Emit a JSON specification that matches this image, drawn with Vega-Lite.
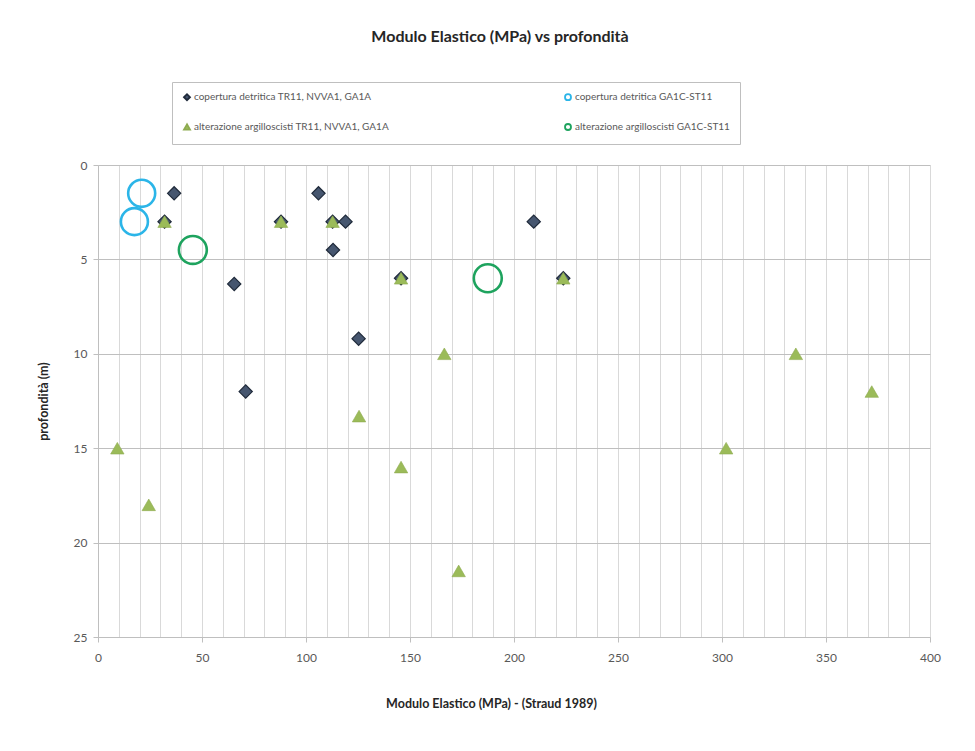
{
  "$schema": "https://vega.github.io/schema/vega-lite/v6.json",
  "width": 832,
  "height": 472,
  "autosize": {"type": "none"},
  "padding": {"left": 98, "top": 165, "right": 45, "bottom": 114},
  "background": "white",
  "config": {
    "font": "Lato",
    "view": {"stroke": null},
    "axis": {"labelFont": "Lato", "titleFont": "Lato", "labelColor": "#595959", "titleColor": "#262626"}
  },
  "title": {
    "text": "Modulo Elastico (MPa) vs profondità",
    "font": "Lato",
    "fontSize": 16,
    "fontWeight": "bold",
    "color": "#262626",
    "anchor": "middle",
    "frame": "group",
    "dx": -14,
    "dy": -17,
    "offset": 20
  },
  "data": {
    "values": [
      {"serie": "copertura detritica TR11, NVVA1, GA1A", "E": 36.6, "z": 1.5},
      {"serie": "copertura detritica TR11, NVVA1, GA1A", "E": 106, "z": 1.5},
      {"serie": "copertura detritica TR11, NVVA1, GA1A", "E": 119, "z": 3},
      {"serie": "copertura detritica TR11, NVVA1, GA1A", "E": 113, "z": 4.5},
      {"serie": "copertura detritica TR11, NVVA1, GA1A", "E": 65.5, "z": 6.3},
      {"serie": "copertura detritica TR11, NVVA1, GA1A", "E": 125.3, "z": 9.2},
      {"serie": "copertura detritica TR11, NVVA1, GA1A", "E": 71, "z": 12},
      {"serie": "copertura detritica TR11, NVVA1, GA1A", "E": 209.5, "z": 3},
      {"serie": "copertura detritica TR11, NVVA1, GA1A", "E": 32, "z": 3},
      {"serie": "copertura detritica TR11, NVVA1, GA1A", "E": 88, "z": 3},
      {"serie": "copertura detritica TR11, NVVA1, GA1A", "E": 112.8, "z": 3},
      {"serie": "copertura detritica TR11, NVVA1, GA1A", "E": 145.7, "z": 6},
      {"serie": "copertura detritica TR11, NVVA1, GA1A", "E": 223.7, "z": 6},
      {"serie": "alterazione argilloscisti TR11, NVVA1, GA1A", "E": 32, "z": 3},
      {"serie": "alterazione argilloscisti TR11, NVVA1, GA1A", "E": 88, "z": 3},
      {"serie": "alterazione argilloscisti TR11, NVVA1, GA1A", "E": 112.8, "z": 3},
      {"serie": "alterazione argilloscisti TR11, NVVA1, GA1A", "E": 145.7, "z": 6},
      {"serie": "alterazione argilloscisti TR11, NVVA1, GA1A", "E": 223.7, "z": 6},
      {"serie": "alterazione argilloscisti TR11, NVVA1, GA1A", "E": 166.5, "z": 10},
      {"serie": "alterazione argilloscisti TR11, NVVA1, GA1A", "E": 125.5, "z": 13.3},
      {"serie": "alterazione argilloscisti TR11, NVVA1, GA1A", "E": 9.3, "z": 15},
      {"serie": "alterazione argilloscisti TR11, NVVA1, GA1A", "E": 145.7, "z": 16},
      {"serie": "alterazione argilloscisti TR11, NVVA1, GA1A", "E": 24.4, "z": 18},
      {"serie": "alterazione argilloscisti TR11, NVVA1, GA1A", "E": 173.4, "z": 21.5},
      {"serie": "alterazione argilloscisti TR11, NVVA1, GA1A", "E": 335.5, "z": 10},
      {"serie": "alterazione argilloscisti TR11, NVVA1, GA1A", "E": 372, "z": 12},
      {"serie": "alterazione argilloscisti TR11, NVVA1, GA1A", "E": 302, "z": 15},
      {"serie": "copertura detritica GA1C-ST11", "E": 21, "z": 1.5},
      {"serie": "copertura detritica GA1C-ST11", "E": 17.5, "z": 3},
      {"serie": "alterazione argilloscisti GA1C-ST11", "E": 45.6, "z": 4.5},
      {"serie": "alterazione argilloscisti GA1C-ST11", "E": 187.4, "z": 6}
    ]
  },
  "mark": {"type": "point", "opacity": 1},
  "encoding": {
    "x": {
      "field": "E",
      "type": "quantitative",
      "scale": {"domain": [0, 400], "nice": false, "zero": false},
      "axis": {
        "title": "Modulo Elastico (MPa) - (Straud 1989)",
        "titleFontSize": 12.5,
        "titleFontWeight": "bold",
        "titleX": 393,
        "titleY": 70,
        "titleBaseline": "alphabetic",
        "values": [0, 10, 20, 30, 40, 50, 60, 70, 80, 90, 100, 110, 120, 130, 140, 150, 160, 170, 180, 190, 200, 210, 220, 230, 240, 250, 260, 270, 280, 290, 300, 310, 320, 330, 340, 350, 360, 370, 380, 390, 400],
        "labelExpr": "datum.value % 50 === 0 ? datum.label : ''",
        "labelFontSize": 12,
        "labelPadding": 10,
        "labelFlush": false,
        "labelOverlap": false,
        "grid": true,
        "gridColor": "#d9d9d9",
        "gridWidth": 1,
        "domainColor": "#bfbfbf",
        "tickColor": "#bfbfbf",
        "tickSize": 5,
        "tickOpacity": {"condition": {"test": "datum.value % 50 !== 0", "value": 0}, "value": 1}
      }
    },
    "y": {
      "field": "z",
      "type": "quantitative",
      "scale": {"domain": [0, 25], "nice": false, "zero": false, "reverse": true},
      "axis": {
        "title": "profondità (m)",
        "titleFontSize": 12.5,
        "titleFontWeight": "bold",
        "titleX": -55,
        "titleY": 236,
        "titleAngle": -90,
        "titleAlign": "center",
        "titleBaseline": "middle",
        "values": [0, 5, 10, 15, 20, 25],
        "labelFontSize": 12,
        "labelPadding": 6,
        "labelFlush": false,
        "grid": true,
        "gridColor": "#bfbfbf",
        "domainColor": "#bfbfbf",
        "tickColor": "#bfbfbf",
        "tickSize": 5
      }
    },
    "shape": {
      "field": "serie",
      "type": "nominal",
      "scale": {
        "domain": ["copertura detritica TR11, NVVA1, GA1A", "copertura detritica GA1C-ST11", "alterazione argilloscisti TR11, NVVA1, GA1A", "alterazione argilloscisti GA1C-ST11"],
        "range": ["diamond", "circle", "triangle-up", "circle"]
      },
      "legend": {
        "title": null,
        "orient": "none",
        "legendX": 74,
        "legendY": -83,
        "direction": "horizontal",
        "columns": 2,
        "columnPadding": 172,
        "rowPadding": 16,
        "padding": 10,
        "strokeColor": "#bfbfbf",
        "labelFont": "Lato",
        "labelFontSize": 10,
        "labelColor": "#595959",
        "labelOffset": 2,
        "labelLimit": 400,
        "symbolSize": 36,
        "symbolStrokeWidth": 1.8
      }
    },
    "fill": {
      "field": "serie",
      "type": "nominal",
      "scale": {
        "domain": ["copertura detritica TR11, NVVA1, GA1A", "copertura detritica GA1C-ST11", "alterazione argilloscisti TR11, NVVA1, GA1A", "alterazione argilloscisti GA1C-ST11"],
        "range": ["#46566f", "transparent", "#9bbb59", "transparent"]
      }
    },
    "stroke": {
      "field": "serie",
      "type": "nominal",
      "scale": {
        "domain": ["copertura detritica TR11, NVVA1, GA1A", "copertura detritica GA1C-ST11", "alterazione argilloscisti TR11, NVVA1, GA1A", "alterazione argilloscisti GA1C-ST11"],
        "range": ["#1f2a3a", "#2bb5e8", "#8eab50", "#1ea35e"]
      }
    },
    "size": {
      "condition": [
        {"test": "datum.serie === 'copertura detritica GA1C-ST11'", "value": 730},
        {"test": "datum.serie === 'alterazione argilloscisti GA1C-ST11'", "value": 780},
        {"test": "datum.serie === 'alterazione argilloscisti TR11, NVVA1, GA1A'", "value": 180}
      ],
      "value": 175
    },
    "strokeWidth": {
      "condition": [
        {"test": "datum.serie === 'copertura detritica GA1C-ST11' || datum.serie === 'alterazione argilloscisti GA1C-ST11'", "value": 2.6},
        {"test": "datum.serie === 'alterazione argilloscisti TR11, NVVA1, GA1A'", "value": 0.6}
      ],
      "value": 1.2
    }
  }
}
